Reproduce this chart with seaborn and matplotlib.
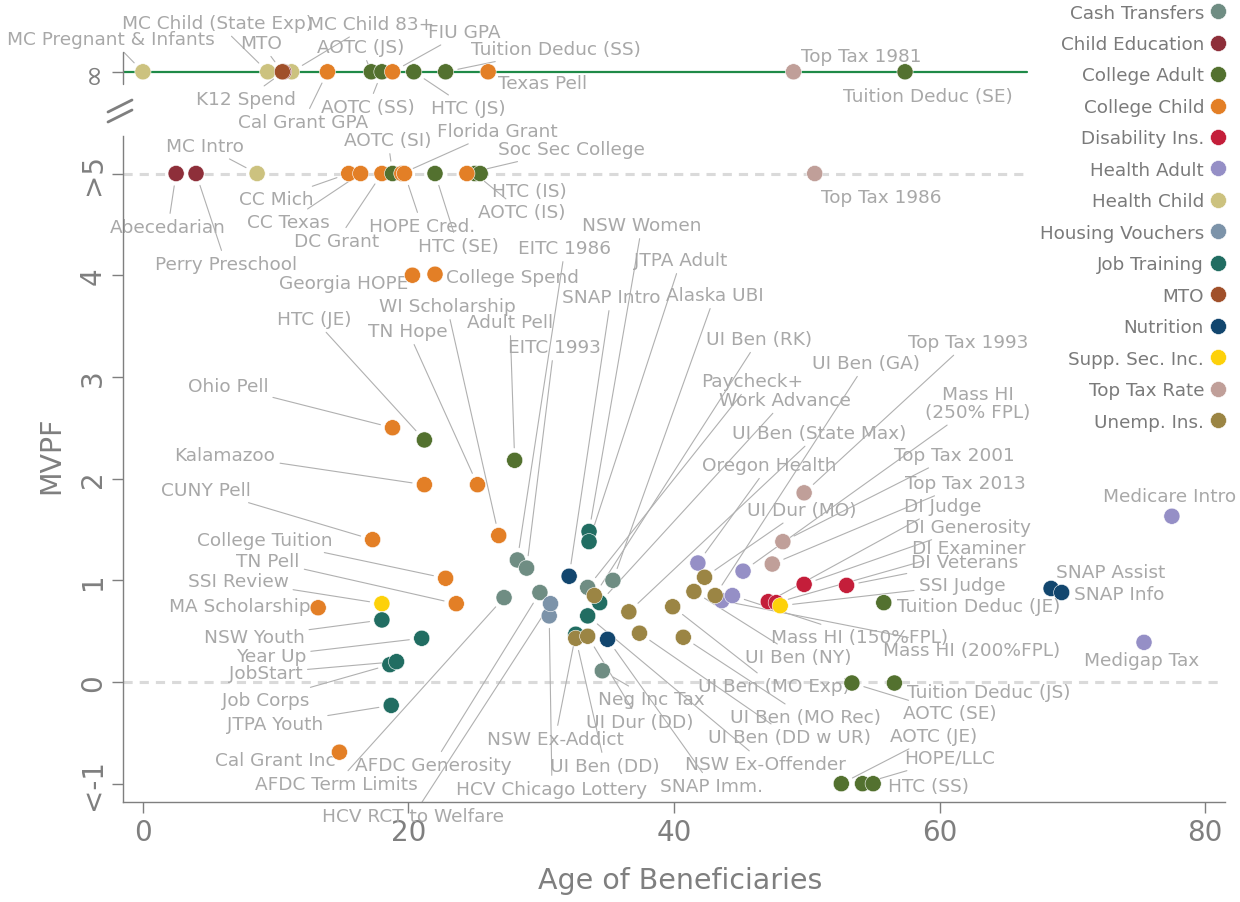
import numpy as np
import pandas as pd
import matplotlib
matplotlib.use("Agg")
import matplotlib.pyplot as plt
from matplotlib.lines import Line2D
from matplotlib.transforms import IdentityTransform
import seaborn as sns

INF = np.inf

# ---------------- data ----------------
programs = [
    "MC Pregnant & Infants", "MC Child (State Exp)", "MC Child 83+", "K12 Spend", "MTO",
    "Cal Grant GPA", "AOTC (JS)", "AOTC (SS)", "FIU GPA", "HTC (JS)",
    "Tuition Deduc (SS)", "Texas Pell", "Top Tax 1981", "Tuition Deduc (SE)",
    "Abecedarian", "Perry Preschool", "MC Intro", "CC Mich", "CC Texas",
    "DC Grant", "AOTC (SI)", "Florida Grant", "HOPE Cred.", "HTC (SE)",
    "AOTC (IS)", "HTC (IS)", "Soc Sec College", "Top Tax 1986",
    "Georgia HOPE", "College Spend", "Ohio Pell", "HTC (JE)", "Adult Pell",
    "Kalamazoo", "TN Hope", "WI Scholarship", "CUNY Pell", "College Tuition",
    "TN Pell", "MA Scholarship", "Cal Grant Inc", "SSI Review", "NSW Youth",
    "Year Up", "Job Corps", "JobStart", "JTPA Youth", "NSW Women",
    "JTPA Adult", "EITC 1986", "EITC 1993", "SNAP Intro", "Alaska UBI",
    "Paycheck+", "Work Advance", "UI Ben (RK)", "AFDC Term Limits", "AFDC Generosity",
    "HCV Chicago Lottery", "HCV RCT to Welfare", "NSW Ex-Offender", "NSW Ex-Addict", "UI Ben (DD)",
    "UI Dur (DD)", "SNAP Imm.", "Neg Inc Tax", "UI Ben (State Max)", "UI Ben (DD w UR)",
    "UI Ben (MO Exp)", "UI Ben (MO Rec)", "Oregon Health", "UI Dur (MO)", "UI Ben (NY)",
    "Mass HI (250% FPL)", "Mass HI (200%FPL)", "Mass HI (150%FPL)", "UI Ben (GA)", "Top Tax 1993",
    "Top Tax 2001", "Top Tax 2013", "DI Judge", "DI Examiner", "DI Generosity",
    "DI Veterans", "SSI Judge", "Tuition Deduc (JE)", "AOTC (SE)", "Tuition Deduc (JS)",
    "AOTC (JE)", "HOPE/LLC", "HTC (SS)", "SNAP Assist", "SNAP Info",
    "Medicare Intro", "Medigap Tax",
]

categories = [
    "Health Child", "Health Child", "Health Child", "Child Education", "MTO",
    "College Child", "College Adult", "College Adult", "College Child", "College Adult",
    "College Adult", "College Child", "Top Tax Rate", "College Adult",
    "Child Education", "Child Education", "Health Child", "College Child", "College Child",
    "College Child", "College Adult", "College Child", "College Child", "College Adult",
    "College Adult", "College Adult", "College Child", "Top Tax Rate",
    "College Child", "College Child", "College Child", "College Adult", "College Adult",
    "College Child", "College Child", "College Child", "College Child", "College Child",
    "College Child", "College Child", "College Child", "Supp. Sec. Inc.", "Job Training",
    "Job Training", "Job Training", "Job Training", "Job Training", "Job Training",
    "Job Training", "Cash Transfers", "Cash Transfers", "Nutrition", "Cash Transfers",
    "Cash Transfers", "Job Training", "Unemp. Ins.", "Cash Transfers", "Cash Transfers",
    "Housing Vouchers", "Housing Vouchers", "Job Training", "Job Training", "Unemp. Ins.",
    "Unemp. Ins.", "Nutrition", "Cash Transfers", "Unemp. Ins.", "Unemp. Ins.",
    "Unemp. Ins.", "Unemp. Ins.", "Health Adult", "Unemp. Ins.", "Unemp. Ins.",
    "Health Adult", "Health Adult", "Health Adult", "Unemp. Ins.", "Top Tax Rate",
    "Top Tax Rate", "Top Tax Rate", "Disability Ins.", "Disability Ins.", "Disability Ins.",
    "Disability Ins.", "Supp. Sec. Inc.", "College Adult", "College Adult", "College Adult",
    "College Adult", "College Adult", "College Adult", "Nutrition", "Nutrition",
    "Health Adult", "Health Adult",
]

ages = [
    0.0, 9.4, 11.2, 10.6, 10.5,
    13.9, 17.2, 18.0, 18.8, 20.4,
    22.8, 26.0, 49.0, 57.4,
    2.5, 4.0, 8.6, 15.5, 16.4,
    18.0, 18.8, 19.5, 19.7, 22.0,
    25.0, 25.4, 24.4, 50.6,
    20.3, 22.0, 18.8, 21.2, 28.0,
    21.2, 25.2, 26.8, 17.3, 22.8,
    23.6, 13.2, 14.8, 18.0, 18.0,
    21.0, 18.6, 19.1, 18.7, 33.6,
    33.6, 28.2, 28.9, 32.1, 35.4,
    33.5, 34.4, 34.0, 27.2, 29.9,
    30.6, 30.7, 33.5, 32.6, 32.6,
    33.5, 35.0, 34.6, 36.6, 37.4,
    39.9, 40.7, 41.8, 42.3, 41.5,
    45.2, 43.6, 44.4, 43.1, 49.8,
    48.2, 47.4, 47.1, 47.7, 49.8,
    53.0, 48.0, 55.8, 53.4, 56.6,
    52.6, 54.2, 55.0, 68.4, 69.2,
    77.5, 75.4,
]

mvpfs = [
    INF, INF, INF, INF, INF,
    INF, INF, INF, INF, INF,
    INF, INF, INF, INF,
    5, 5, 5, 5, 5,
    5, 5, 5, 5, 5,
    5, 5, 5, 5,
    4.00, 4.01, 2.50, 2.38, 2.18,
    1.94, 1.94, 1.44, 1.40, 1.02,
    0.77, 0.73, -0.69, 0.77, 0.61,
    0.43, 0.17, 0.20, -0.23, 1.48,
    1.38, 1.20, 1.12, 1.04, 1.00,
    0.93, 0.78, 0.85, 0.83, 0.88,
    0.65, 0.77, 0.65, 0.47, 0.43,
    0.45, 0.42, 0.11, 0.69, 0.48,
    0.74, 0.44, 1.17, 1.03, 0.89,
    1.09, 0.80, 0.85, 0.85, 1.86,
    1.38, 1.16, 0.79, 0.78, 0.96,
    0.95, 0.75, 0.78, -0.01, -0.01,
    -1.0, -1.0, -1.0, 0.92, 0.88,
    1.63, 0.39,
]

category_order = [
    "Cash Transfers", "Child Education", "College Adult", "College Child",
    "Disability Ins.", "Health Adult", "Health Child", "Housing Vouchers",
    "Job Training", "MTO", "Nutrition", "Supp. Sec. Inc.", "Top Tax Rate",
    "Unemp. Ins.",
]
category_colors = [
    "#6F8D83", "#8E2F3A", "#53712F", "#E37F26",
    "#C41E3A", "#958FC6", "#CCC27F", "#7C93A9",
    "#216D62", "#A0502A", "#12466E", "#FDD10A", "#C09F99",
    "#9B8544",
]

ytick_values = [-1, 0, 1, 2, 3, 4, 5, INF]
ytick_labels = ["<-1", "0", "1", "2", "3", "4", ">5", "\u221e"]
xtick_values = [0, 20, 40, 60, 80]

# ---------------- label layout (figure pixels, from top) ----------------
label_layout = {
    "MC Pregnant & Infants": (111, 40, True), "MC Child (State Exp)": (218, 24, True),
    "MTO": (261, 44, True), "MC Child 83+": (371, 25, True), "K12 Spend": (246, 100, True),
    "Cal Grant GPA": (303, 123, True), "AOTC (JS)": (361, 48, True), "AOTC (SS)": (368, 108, True),
    "FIU GPA": (464, 33, True), "HTC (JS)": (468, 109, True), "Tuition Deduc (SS)": (556, 50, True),
    "Texas Pell": (543, 84, False), "Top Tax 1981": (861, 57, False),
    "Tuition Deduc (SE)": (928, 97, False),
    "Abecedarian": (168, 228, True), "Perry Preschool": (226, 265, True), "MC Intro": (205, 147, True),
    "CC Mich": (276, 200, True), "CC Texas": (288, 223, True), "DC Grant": (337, 242, True),
    "AOTC (SI)": (388, 141, True), "Florida Grant": (497, 132, True), "HOPE Cred.": (422, 227, True),
    "HTC (SE)": (458, 247, True), "AOTC (IS)": (522, 213, True), "HTC (IS)": (529, 192, False),
    "Soc Sec College": (571, 150, True), "Top Tax 1986": (881, 198, False),
    "Georgia HOPE": (344, 284, False), "College Spend": (512, 278, False),
    "Ohio Pell": (228, 387, True), "HTC (JE)": (314, 320, True), "Adult Pell": (510, 323, True),
    "Kalamazoo": (225, 456, True), "TN Hope": (408, 332, True), "WI Scholarship": (447, 307, True),
    "CUNY Pell": (206, 491, True), "College Tuition": (265, 541, True), "TN Pell": (268, 562, True),
    "MA Scholarship": (240, 607, False), "Cal Grant Inc": (275, 761, False),
    "SSI Review": (238, 582, True), "NSW Youth": (254, 638, True), "Year Up": (271, 657, True),
    "Job Corps": (266, 701, True), "JobStart": (266, 674, True), "JTPA Youth": (275, 725, True),
    "NSW Women": (642, 226, True), "JTPA Adult": (681, 261, True), "EITC 1986": (565, 249, True),
    "EITC 1993": (554, 348, True), "SNAP Intro": (611, 298, True), "Alaska UBI": (715, 296, True),
    "Paycheck+": (752, 382, True), "Work Advance": (785, 401, True), "UI Ben (RK)": (759, 340, True),
    "AFDC Term Limits": (336, 785, True), "AFDC Generosity": (433, 766, True),
    "HCV Chicago Lottery": (552, 790, True), "HCV RCT to Welfare": (413, 817, True),
    "NSW Ex-Offender": (765, 765, True), "NSW Ex-Addict": (555, 740, True),
    "UI Ben (DD)": (605, 767, True), "UI Dur (DD)": (640, 723, True), "SNAP Imm.": (712, 787, True),
    "Neg Inc Tax": (651, 700, True), "UI Ben (State Max)": (819, 434, True),
    "UI Ben (DD w UR)": (790, 738, True), "UI Ben (MO Exp)": (774, 687, True),
    "UI Ben (MO Rec)": (805, 718, True), "Oregon Health": (769, 466, True),
    "UI Dur (MO)": (802, 511, True), "UI Ben (NY)": (798, 658, True),
    "Mass HI (250% FPL)": (978, 404, True), "Mass HI (200%FPL)": (972, 651, True),
    "Mass HI (150%FPL)": (860, 638, True), "UI Ben (GA)": (866, 364, True),
    "Top Tax 1993": (968, 343, True), "Top Tax 2001": (954, 456, True),
    "Top Tax 2013": (965, 484, True), "DI Judge": (943, 507, True), "DI Examiner": (969, 549, True),
    "DI Generosity": (968, 528, True), "DI Veterans": (965, 563, True), "SSI Judge": (962, 586, True),
    "Tuition Deduc (JE)": (979, 607, False), "AOTC (SE)": (950, 714, True),
    "Tuition Deduc (JS)": (989, 693, False), "AOTC (JE)": (934, 737, True),
    "HOPE/LLC": (950, 759, True), "HTC (SS)": (929, 787, False),
    "SNAP Assist": (1111, 573, False), "SNAP Info": (1119, 595, False),
    "Medicare Intro": (1170, 497, False), "Medigap Tax": (1142, 661, False),
}
display_text = {"Mass HI (250% FPL)": "Mass HI\n(250% FPL)"}

# ---------------- styling ----------------
W, H = 1240, 903
INF_POS = 6.0
AX_GREY = "#7F7F7F"
LABEL_GREY = "#A8A8A8"
LINE_GREY = "#B0B0B0"

sns.set_theme(style="white")
plt.rcParams["font.family"] = ["DejaVu Sans"]

df = pd.DataFrame({"program": programs, "category": categories,
                   "age": ages, "mvpf": mvpfs})
df["ypos"] = np.where(np.isinf(df["mvpf"]), INF_POS, df["mvpf"])

fig = plt.figure(figsize=(W / 100, H / 100), dpi=100)
ax = fig.add_axes([123 / W, 100 / H, 1102 / W, 803 / H])

palette = dict(zip(category_order, category_colors))

# reference lines
ax.plot([-1.5, 66.6], [INF_POS, INF_POS], color="#1F8A48", lw=1.6, zorder=1)
ax.plot([-1.5, 66.6], [5, 5], color="#DADADA", lw=2.2, dashes=(3, 2.3), zorder=1)
ax.plot([-1.5, 81.0], [0, 0], color="#DADADA", lw=2.2, dashes=(3, 2.3), zorder=1)

sns.scatterplot(data=df, x="age", y="ypos", hue="category", hue_order=category_order,
                palette=palette, s=135, edgecolor="white", linewidth=0.4,
                legend=False, ax=ax, zorder=3, clip_on=False)

ax.set_xlim(-1.5, 81.5)
ax.set_ylim(-1.18, 6.716)

# annotations
for name, age, y in zip(df["program"], df["age"], df["ypos"]):
    px, py, has_line = label_layout[name]
    txt = display_text.get(name, name)
    arrow = None
    if has_line:
        arrow = dict(arrowstyle="-", color=LINE_GREY, lw=0.8, shrinkA=1, shrinkB=9)
    ax.annotate(txt, xy=(age, y), xycoords="data", xytext=(px, H - py),
                textcoords="figure pixels", ha="center", va="center",
                fontsize=13.3, color=LABEL_GREY, arrowprops=arrow,
                linespacing=1.0, zorder=2, annotation_clip=False)

# axes styling
for s in ["top", "right"]:
    ax.spines[s].set_visible(False)
for s in ["left", "bottom"]:
    ax.spines[s].set_color(AX_GREY)
    ax.spines[s].set_linewidth(1.0)
ax.spines["left"].set_bounds(-1.18, 5.37)
ax.plot([-1.5, -1.5], [5.88, 6.19], color=AX_GREY, lw=1.0, clip_on=False, zorder=2)

ax.set_xticks(xtick_values)
ax.set_yticks([INF_POS if np.isinf(v) else v for v in ytick_values])
ax.set_yticklabels(ytick_labels, rotation=90, va="center")
ax.tick_params(axis="both", length=8, width=1, color=AX_GREY, labelcolor=AX_GREY,
               labelsize=20, left=True, bottom=True)
ax.grid(False)

ax.set_xlabel("Age of Beneficiaries", fontsize=20.5, color=AX_GREY)
ax.set_ylabel("MVPF", fontsize=20.5, color=AX_GREY)
ax.xaxis.set_label_coords(0.506, -0.080)
ax.yaxis.set_label_coords(-0.052, 0.433)

# axis break marks
for dy in (0, 10):
    fig.add_artist(Line2D([108, 132], [H - 113 - dy, H - 101 - dy], color=AX_GREY, lw=2.0,
                          transform=IdentityTransform()))

# legend
handles = [Line2D([], [], marker="o", ls="", markersize=11.5, markerfacecolor=c,
                  markeredgecolor="white", markeredgewidth=0.4) for c in category_colors]
leg = fig.legend(handles, category_order, loc="upper right", bbox_to_anchor=(1227 / W, 0.995),
                 bbox_transform=fig.transFigure, frameon=False, markerfirst=False,
                 fontsize=13.2, labelspacing=0.735, handletextpad=0.25, handlelength=1.0,
                 borderpad=0, borderaxespad=0)
for t in leg.get_texts():
    t.set_color("#7A7A7A")

fig.savefig("out.png", dpi=100)
